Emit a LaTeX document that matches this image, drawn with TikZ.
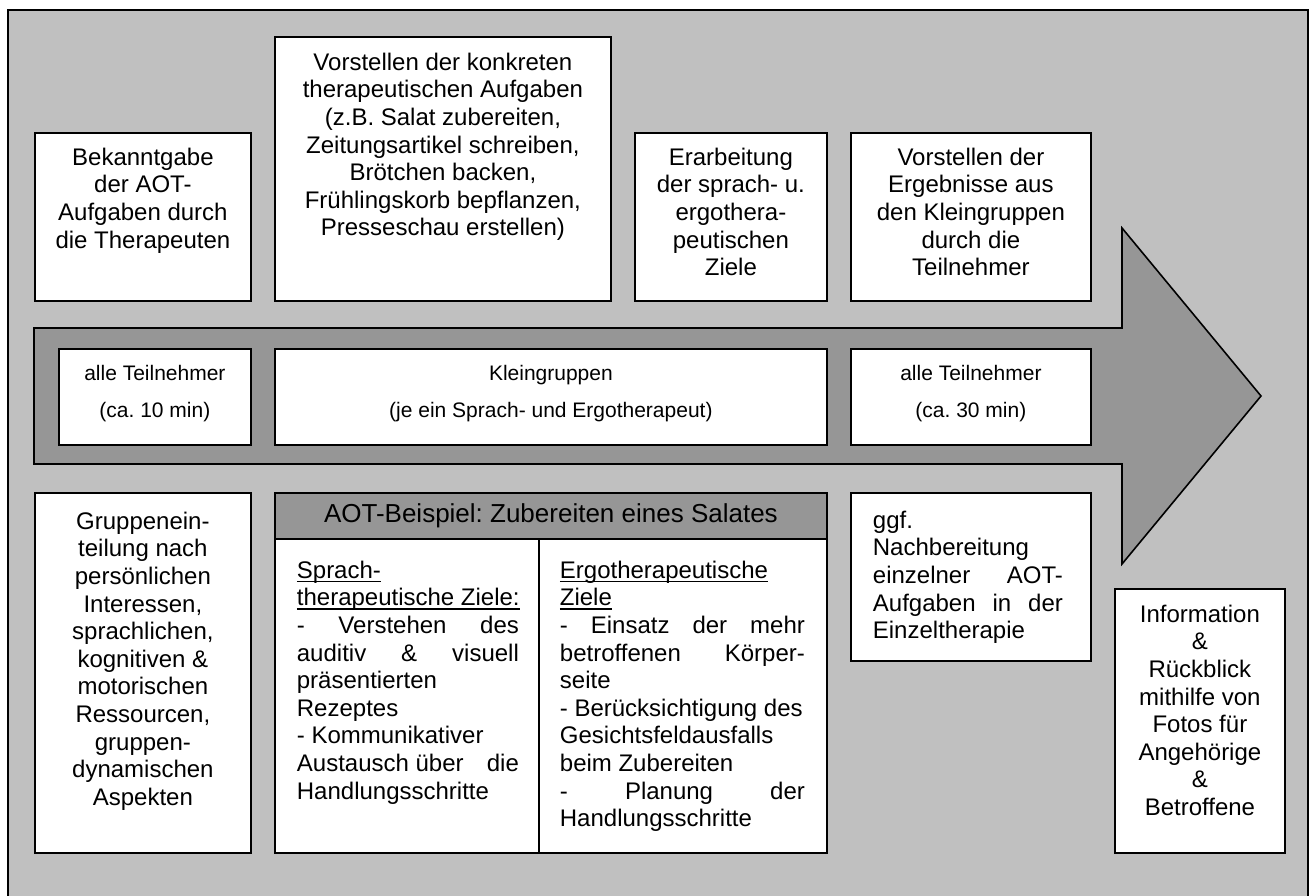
\documentclass[tikz,border=0pt]{standalone}
\usepackage{fontspec}
\setmainfont{Liberation Sans}
\frenchspacing
\definecolor{lgrey}{HTML}{C0C0C0}
\definecolor{dgrey}{HTML}{969696}
\newcommand{\myul}[1]{\leavevmode\setbox0\hbox{#1}\rlap{\rule[-4pt]{\wd0}{1.4pt}}\box0}
\newcommand{\bigf}{\fontsize{24}{27.6}\selectfont}
\newcommand{\midf}{\fontsize{21}{37}\selectfont}
\tikzset{
  wbox/.style={draw=black, line width=1.8pt, fill=white, inner sep=0pt, anchor=north west},
  outerframe/.style={draw=black, line width=1.8pt, fill=lgrey},
  arrowshape/.style={draw=black, line width=1.6pt, fill=dgrey},
}
\begin{document}
\frenchspacing
\begin{tikzpicture}[x=1pt,y=-1pt]
\useasboundingbox (0,0) rectangle (1312,896);
\clip (0,0) rectangle (1312,896);
\draw[outerframe] (8,10) rectangle (1308,920);
\draw[arrowshape] (34,328) -- (1122,328) -- (1122,228) -- (1261,396) -- (1122,564) -- (1122,464) -- (34,464) -- cycle;

% top row
\node[wbox] (b1) at (34,132) {\parbox[c][168pt][t]{216pt}{\bigf\centering\vspace*{15pt}Bekanntgabe\\der AOT-\\Aufgaben durch\\die Therapeuten}};
\node[wbox] (b2) at (274,36) {\parbox[c][264pt][t]{336pt}{\bigf\centering\vspace*{16pt}Vorstellen der konkreten\\therapeutischen Aufgaben\\(z.B. Salat zubereiten,\\Zeitungsartikel schreiben,\\Brötchen backen,\\Frühlingskorb bepflanzen,\\Presseschau erstellen)}};
\node[wbox] (b3) at (634,132) {\parbox[c][168pt][t]{192pt}{\bigf\centering\vspace*{15pt}Erarbeitung\\der sprach- u.\\ergothera-\\peutischen\\Ziele}};
\node[wbox] (b4) at (850,132) {\parbox[c][168pt][t]{240pt}{\bigf\centering\vspace*{15pt}Vorstellen der\\Ergebnisse aus\\den Kleingruppen\\durch die\\Teilnehmer}};

% middle row
\node[wbox] (m1) at (58,348) {\parbox[c][96pt][t]{192pt}{\midf\centering\vspace*{16pt}alle Teilnehmer\\(ca. 10 min)}};
\node[wbox] (m2) at (274,348) {\parbox[c][96pt][t]{552pt}{\midf\centering\vspace*{16pt}Kleingruppen\\(je ein Sprach- und Ergotherapeut)}};
\node[wbox] (m3) at (850,348) {\parbox[c][96pt][t]{240pt}{\midf\centering\vspace*{16pt}alle Teilnehmer\\(ca. 30 min)}};

% bottom row
\node[wbox] (g1) at (34,492) {\parbox[c][360pt][t]{216pt}{\bigf\centering\vspace*{19pt}Gruppenein-\\teilung nach\\persönlichen\\Interessen,\\sprachlichen,\\kognitiven \&\\motorischen\\Ressourcen,\\gruppen-\\dynamischen\\Aspekten}};

\node[wbox, fill=dgrey, minimum width=552pt, minimum height=46pt, font=\fontsize{26}{30}\selectfont] (th) at (274,492) {AOT-Beispiel: Zubereiten eines Salates};
\node[wbox] (tl) at (274,538) {\parbox[c][314pt][t]{264pt}{\bigf\leftskip=22pt\rightskip=20pt\vspace*{22pt}\myul{Sprach-}\\\myul{therapeutische Ziele:}\\- \hfill Verstehen \hfill des\\auditiv \hfill \& \hfill visuell\\präsentierten\\Rezeptes\\- Kommunikativer\\Austausch über \hfill die\\Handlungsschritte}};
\node[wbox] (tr) at (538,538) {\parbox[c][314pt][t]{288pt}{\bigf\leftskip=21pt\rightskip=22pt\vspace*{22pt}\myul{Ergotherapeutische}\\\myul{Ziele}\\- \hfill Einsatz \hfill der \hfill mehr\\betroffenen \hfill Körper-\\seite\\- Berücksichtigung des\\Gesichtsfeldausfalls\\beim Zubereiten\\- \hfill Planung \hfill der\\Handlungsschritte}};

\node[wbox] (n1) at (850,492) {\parbox[c][168pt][t]{240pt}{\bigf\leftskip=22pt\rightskip=28pt\vspace*{18pt}ggf.\\Nachbereitung\\einzelner \hfill AOT-\\Aufgaben \hfill in \hfill der\\Einzeltherapie}};

\node[wbox] (i1) at (1114,588) {\parbox[c][264pt][t]{170pt}{\bigf\centering\vspace*{16pt}Information\\\&\\Rückblick\\mithilfe von\\Fotos für\\Angehörige\\\&\\Betroffene}};
\end{tikzpicture}
\end{document}
